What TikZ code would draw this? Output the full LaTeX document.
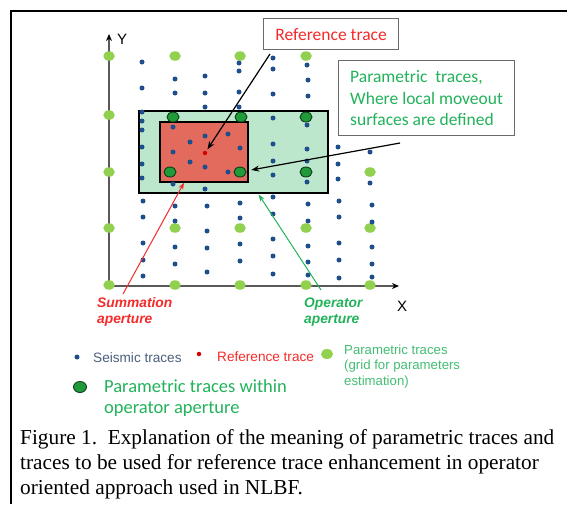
\documentclass[tikz,border=0pt]{standalone}
\usepackage{fontspec}
\setmainfont{Liberation Serif}
\newfontfamily\carl{Carlito}
\newfontfamily\arialf{Liberation Sans}
\usetikzlibrary{arrows.meta,calc,shapes.geometric}
\definecolor{lgreen}{HTML}{92D050}
\definecolor{dgreen}{HTML}{1F9B3A}
\definecolor{dgreenline}{HTML}{0E3D18}
\definecolor{opfill}{HTML}{BDE7CD}
\definecolor{sumfill}{HTML}{E26B5E}
\definecolor{seisblue}{HTML}{1F4E8C}
\definecolor{txtgreen}{HTML}{22B25A}
\definecolor{txtred}{HTML}{F52A2A}
\definecolor{seistxt}{HTML}{4A5F7C}
\definecolor{axisgray}{HTML}{595959}
\definecolor{boxgray}{HTML}{6A6A6A}
\tikzset{
  seis/.style={fill=seisblue},
  pgrid/.style={ellipse, fill=lgreen, minimum width=11.5pt, minimum height=9.5pt, inner sep=0pt},
  pdark/.style={ellipse, fill=dgreen, draw=dgreenline, line width=0.9pt, minimum width=12pt, minimum height=10pt, inner sep=0pt},
  calloutbox/.style={draw=boxgray, line width=1.2pt, fill=white, inner sep=0pt},
  blackarrow/.style={draw=black, line width=1.2pt, -{Stealth[length=8pt,width=6pt]}},
  redarrow/.style={draw=txtred, line width=1pt, -{Stealth[length=7pt,width=5pt]}},
  greenarrow/.style={draw=txtgreen, line width=1pt, -{Stealth[length=7pt,width=5pt]}},
  axisline/.style={draw=axisgray, line width=1.4pt, -{Stealth[length=7pt,width=6pt,color=black]}},
  captext/.style={anchor=base west, inner sep=0pt, font=\fontsize{21.3}{25}\selectfont},
}
\begin{document}
\begin{tikzpicture}[x=1pt,y=-1pt]
\useasboundingbox (0,0) rectangle (567,504);
% outer frame
\draw[line width=2.4pt] (11,504) -- (11,11) -- (567,11);

% axes
\coordinate (origin) at (109,286);
\coordinate (yend) at (109,34);
\coordinate (xend) at (399,286);
\draw[axisline] (origin) -- (yend);
\draw[axisline] (origin) -- (xend);
\node[font=\arialf\fontsize{15}{18}\selectfont, anchor=base west, inner sep=0pt] (ylab) at (117,44) {Y};
\node[font=\arialf\fontsize{15}{18}\selectfont, anchor=base west, inner sep=0pt] (xlab) at (397,311) {X};

% operator and summation apertures
\node[draw=black, fill=opfill, line width=1.6pt, minimum width=189pt, minimum height=82pt, inner sep=0pt, anchor=north west] (opbox) at (138,110) {};
\node[draw=black, fill=sumfill, line width=1.6pt, minimum width=88pt, minimum height=60pt, inner sep=0pt, anchor=north west] (sumbox) at (159,121) {};

% parametric grid (light green)
\foreach \x/\y [count=\i] in {109/56,175/56,240/56,306/56,109/115,109/172,370/172,
  109/228,175/228,240/228,306/228,370/228,109/285,175/285,240/285,306/285,370/285}
  \node[pgrid] (pg\i) at (\x,\y) {};

% seismic traces
\foreach \x/\y in {142/62,142/88,175/79,175/93,205/76,205/93,205/107,239/63,239/71,239/92,239/107,
  273/58,273/69,273/94,307/65,308/80,308/96,
  142/112,142/121,142/130,142/147,142/164,142/178,
  173/127,173/152,173/184,190/142,190/162,
  205/136,205/167,205/189,228/134,228/172,240/148,
  273/118,273/144,273/161,273/175,273/197,
  307/125,307/149,307/161,307/182,
  338/147,338/164,338/179,370/152,370/183,
  143/201,143/217,143/243,143/260,143/276,
  175/206,175/221,175/247,175/264,
  207/206,207/231,207/248,207/272,
  240/203,240/218,240/244,240/261,
  273/214,273/239,273/256,273/274,
  308/204,308/221,308/246,308/262,308/275,
  339/201,339/217,339/243,339/260,339/278,
  372/205,372/222,372/247,372/264,372/277}
  \fill[seis] (\x,\y) circle (2.5pt);

% parametric traces within operator aperture
\node[pdark] (dg1) at (173,117) {};
\node[pdark] (dg2) at (241,117) {};
\node[pdark] (dg3) at (306,117) {};
\node[pdark] (dg4) at (170,172) {};
\node[pdark] (dg5) at (240,172) {};
\node[pdark] (dg6) at (306,172) {};

% reference trace
\node[circle, fill=red!85!black, minimum size=4.5pt, inner sep=0pt] (refdot) at (205,153) {};

% callout boxes
\node[calloutbox, minimum width=135pt, minimum height=31pt, anchor=north west,
  font=\carl\fontsize{17.5}{21.5}\selectfont, text=txtred] (reftxt) at (263,18) {Reference trace};
\node[calloutbox, minimum width=176pt, minimum height=75pt, anchor=north west, align=left,
  font=\carl\fontsize{17.5}{21.5}\selectfont, text=txtgreen] (partxt) at (338,60)
  {Parametric\ \ traces,\\Where local moveout\\surfaces are defined};

% labels (base anchor = baseline of last line)
\node[anchor=base west, inner sep=0pt, align=left, text=txtred,
  font=\arialf\bfseries\itshape\fontsize{13.8}{15.5}\selectfont] (sumlbl) at (97,323) {Summation\\aperture};
\node[anchor=base west, inner sep=0pt, align=left, text=txtgreen,
  font=\arialf\bfseries\itshape\fontsize{13.8}{15.5}\selectfont] (oplbl) at (304,323) {Operator\\aperture};

% arrows
\coordinate (a1s) at (270,54);
\draw[blackarrow, shorten >=2pt] (a1s) -- (refdot);
\coordinate (a2s) at (400,143);
\draw[blackarrow, shorten >=5pt] (a2s) -- (dg5);
\coordinate (a3s) at (123,294);
\coordinate (a3e) at ($(sumbox.south west)!0.28!(sumbox.south east)$);
\draw[redarrow] (a3s) -- (a3e);
\coordinate (a4s) at (321,290);
\coordinate (a4e) at ($(opbox.south west)!0.63!(opbox.south east)$);
\draw[greenarrow, shorten >=1pt] (a4s) -- (a4e);

% legend
\fill[seis] (77,357) circle (2.5pt);
\node[anchor=base west, inner sep=0pt, text=seistxt, font=\arialf\fontsize{13.6}{15.5}\selectfont] (lg1) at (93,362) {Seismic traces};
\node[circle, fill=red!85!black, minimum size=4.5pt, inner sep=0pt] (lgref) at (199,354) {};
\node[anchor=base west, inner sep=0pt, text=txtred, font=\arialf\fontsize{13.6}{15.5}\selectfont] (lg2) at (217,361) {Reference trace};
\node[pgrid, minimum width=12pt, minimum height=10pt] (lgpg) at (327,354) {};
\node[anchor=base west, inner sep=0pt, align=left, text=txtgreen!85!white, font=\arialf\fontsize{13.2}{15.5}\selectfont] (lg3) at (344,385) {Parametric traces\\(grid for parameters\\estimation)};
\node[pdark, minimum width=13pt, minimum height=11pt] (lgdg) at (80,387) {};
\node[anchor=base west, inner sep=0pt, align=left, text=txtgreen, font=\carl\fontsize{18.5}{20.5}\selectfont] (lg4) at (104,413) {Parametric traces within\\operator aperture};

% caption
\node[captext] (cap1) at (20,444) {Figure 1.\ \ Explanation of the meaning of parametric traces and};
\node[captext] (cap2) at (20,469) {traces to be used for reference trace enhancement in operator};
\node[captext] (cap3) at (20,494) {oriented approach used in NLBF.};
\end{tikzpicture}
\end{document}
